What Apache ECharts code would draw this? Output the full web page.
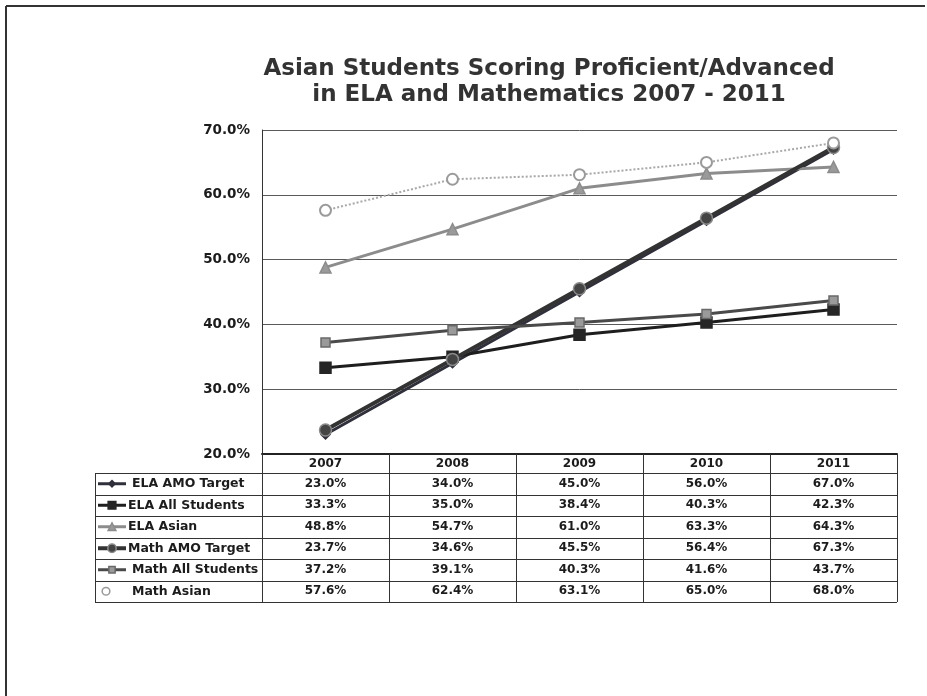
<!DOCTYPE html>
<html>
<head>
<meta charset="utf-8">
<script src="https://cdn.jsdelivr.net/npm/echarts@6/dist/echarts.min.js"></script>
<style>
  html, body { margin: 0; padding: 0; background: #fff; }
  #chart { width: 927px; height: 696px; }
</style>
</head>
<body>
<div id="chart"></div>
<script>
// ---- data -------------------------------------------------------------
const years = ['2007', '2008', '2009', '2010', '2011'];
const elaAmoTarget    = [23.0, 34.0, 45.0, 56.0, 67.0];
const elaAllStudents  = [33.3, 35.0, 38.4, 40.3, 42.3];
const elaAsian        = [48.8, 54.7, 61.0, 63.3, 64.3];
const mathAmoTarget   = [23.7, 34.6, 45.5, 56.4, 67.3];
const mathAllStudents = [37.2, 39.1, 40.3, 41.6, 43.7];
const mathAsian       = [57.6, 62.4, 63.1, 65.0, 68.0];
const seriesNames = ['ELA AMO Target', 'ELA All Students', 'ELA Asian',
                     'Math AMO Target', 'Math All Students', 'Math Asian'];
const yMin = 20, yMax = 70, yStep = 10;
const titleText = 'Asian Students Scoring Proficient/Advanced\nin ELA and Mathematics 2007 - 2011';

// ---- look -------------------------------------------------------------
const FONT = '"DejaVu Sans", Verdana, sans-serif';
const W = 927, H = 696;
const plot = { left: 262, right: 897, top: 130, bottom: 454 };
const table = { left: 95, headerTop: 454, bodyTop: 473, rowH: 21.5 };
const ink = '#1c1c1c';

const looks = [
  { line: '#30303c', width: 3, type: 'solid',  symbol: 'diamond',     size: 9,  fill: '#30303c', border: '#30303c' },
  { line: '#1e1e1e', width: 3, type: 'solid',  symbol: 'rect',        size: 11, fill: '#262626', border: '#262626' },
  { line: '#8c8c8c', width: 3, type: 'solid',  symbol: 'triangle',    size: 11, fill: '#9a9a9a', border: '#8c8c8c' },
  { line: '#333333', width: 4, type: 'solid',  symbol: 'circle',      size: 12, fill: '#444444', border: '#8a8a8a' },
  { line: '#4a4a4a', width: 3, type: 'solid',  symbol: 'rect',        size: 9,  fill: '#9a9a9a', border: '#6a6a6a' },
  { line: '#a8a8a8', width: 2, type: 'dotted', symbol: 'emptyCircle', size: 11, fill: '#9a9a9a', border: '#9a9a9a' }
];
const dataSets = [elaAmoTarget, elaAllStudents, elaAsian, mathAmoTarget, mathAllStudents, mathAsian];

const chart = echarts.init(document.getElementById('chart'), null, { renderer: 'canvas' });

const series = dataSets.map((d, i) => ({
  type: 'line',
  name: seriesNames[i],
  data: d,
  symbol: looks[i].symbol,
  symbolSize: looks[i].size,
  showAllSymbol: true,
  lineStyle: { color: looks[i].line, width: looks[i].width, type: looks[i].type },
  itemStyle: { color: looks[i].fill, borderColor: looks[i].border, borderWidth: 1.5 },
  emphasis: { disabled: true },
  z: 3 + i
}));

chart.setOption({
  animation: false,
  backgroundColor: '#fff',
  title: {
    text: titleText,
    left: 544, top: 51, textAlign: 'center',
    textStyle: { fontFamily: FONT, fontSize: 23, fontWeight: 'bold', color: '#333', lineHeight: 26 }
  },
  grid: { left: plot.left, right: W - plot.right, top: plot.top, bottom: H - plot.bottom, containLabel: false },
  xAxis: {
    type: 'category', data: years, boundaryGap: true,
    axisLine: { lineStyle: { color: '#222', width: 2 } },
    axisTick: { show: false },
    axisLabel: { margin: 4, fontFamily: FONT, fontSize: 12, fontWeight: 'bold', color: ink }
  },
  yAxis: {
    type: 'value', min: yMin, max: yMax, interval: yStep,
    axisLine: { show: true, lineStyle: { color: '#333', width: 1 } },
    axisTick: { show: false },
    axisLabel: { margin: 12, fontFamily: FONT, fontSize: 13.5, fontWeight: 'bold', color: ink,
                 formatter: v => v.toFixed(1) + '%' },
    splitLine: { lineStyle: { color: '#5a5a5a', width: 1 } }
  },
  series: series
});

// ---- data table under the plot, with legend keys ----------------------
const g = [];
const line = (x1, y1, x2, y2, color, w) => ({
  type: 'line', shape: { x1, y1, x2, y2 }, silent: true, z: 50,
  style: { stroke: color || '#333', lineWidth: w || 1 }
});
const band = (plot.right - plot.left) / years.length;
const tableBottom = table.bodyTop + table.rowH * seriesNames.length;

// page frame
g.push(line(6, 6, 925, 6, '#333', 2));
g.push(line(6, 6, 6, H, '#333', 2));

// horizontal rules
for (let r = 0; r <= seriesNames.length; r++) {
  const y = Math.round(table.bodyTop + r * table.rowH) + 0.5;
  g.push(line(table.left, y, plot.right, y));
}
// vertical rules
g.push(line(table.left + 0.5, table.bodyTop, table.left + 0.5, tableBottom));
for (let c = 0; c <= years.length; c++) {
  const x = Math.round(plot.left + c * band) + 0.5;
  g.push(line(x, table.headerTop, x, tableBottom));
}

dataSets.forEach((d, r) => {
  const cy = table.bodyTop + (r + 0.5) * table.rowH;
  const lk = looks[r];
  // legend key
  if (r !== 5) {
    g.push({ type: 'line', silent: true, z: 55,
      shape: { x1: 98, y1: cy, x2: 126, y2: cy },
      style: { stroke: lk.line, lineWidth: lk.width } });
  }
  const mx = 112, s = lk.size * 0.7;
  let mk;
  if (lk.symbol === 'rect') {
    mk = { type: 'rect', shape: { x: mx - s / 2, y: cy - s / 2, width: s, height: s } };
  } else if (lk.symbol === 'triangle') {
    mk = { type: 'polygon', shape: { points: [[mx, cy - s / 2], [mx + s / 2, cy + s / 2], [mx - s / 2, cy + s / 2]] } };
  } else if (lk.symbol === 'diamond') {
    mk = { type: 'polygon', shape: { points: [[mx, cy - s / 2], [mx + s / 2, cy], [mx, cy + s / 2], [mx - s / 2, cy]] } };
  } else {
    mk = { type: 'circle', shape: { cx: r === 5 ? 106 : mx, cy, r: s / 2 } };
  }
  mk.silent = true; mk.z = 56;
  mk.style = { fill: r === 5 ? '#fff' : lk.fill, stroke: lk.border, lineWidth: 1.5 };
  g.push(mk);

  // row label
  g.push({ type: 'text', silent: true, z: 60,
    x: (r === 0 || r === 4 || r === 5) ? 132 : 128, y: cy,
    style: { text: seriesNames[r], font: 'bold 12.5px ' + FONT, fill: ink, textAlign: 'left', textVerticalAlign: 'middle' } });

  // values
  d.forEach((v, c) => {
    const cx = chart.convertToPixel({ xAxisIndex: 0 }, c);
    g.push({ type: 'text', silent: true, z: 60, x: cx, y: cy,
      style: { text: v.toFixed(1) + '%', font: 'bold 12px ' + FONT, fill: ink, textAlign: 'center', textVerticalAlign: 'middle' } });
  });
});

chart.setOption({ graphic: g });
</script>
</body>
</html>
